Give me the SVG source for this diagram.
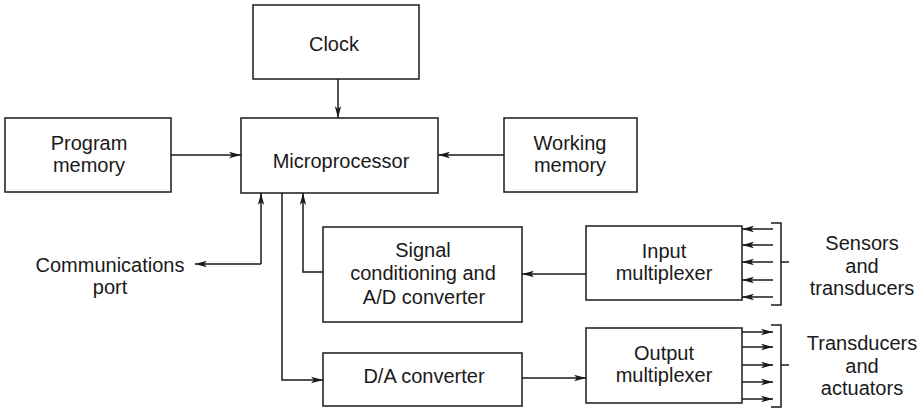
<svg xmlns="http://www.w3.org/2000/svg" width="922" height="411" viewBox="0 0 922 411">
<defs>
<marker id="ah" viewBox="0 0 12 8" refX="12" refY="4" markerWidth="12" markerHeight="8" markerUnits="userSpaceOnUse" orient="auto">
<path d="M0,0.8 L12,4 L0,7.2 L3,4 Z" fill="#1a1a1a"/>
</marker>
</defs>
<style>
.box{fill:#fff;stroke:#1a1a1a;stroke-width:1.5}
.ln{fill:none;stroke:#1a1a1a;stroke-width:1.5}
.ar{fill:none;stroke:#1a1a1a;stroke-width:1.5;marker-end:url(#ah)}
text{font-family:"Liberation Sans",Arial,sans-serif;font-size:20px;fill:#1a1a1a;text-anchor:middle}
</style>
<rect width="922" height="411" fill="#fff"/>
<g id="clock"><rect class="box" x="253" y="5" width="166" height="74"/><text x="334" y="51">Clock</text></g>
<g id="microprocessor"><rect class="box" x="241" y="118" width="197" height="75"/><text x="341" y="168">Microprocessor</text></g>
<g id="program-memory"><rect class="box" x="5" y="118" width="166" height="74"/><text x="89" y="150">Program</text><text x="89" y="172">memory</text></g>
<g id="working-memory"><rect class="box" x="504" y="118" width="133" height="74"/><text x="570" y="150">Working</text><text x="570" y="172">memory</text></g>
<g id="signal-conditioning"><rect class="box" x="323" y="227" width="199" height="95"/><text x="423" y="257">Signal</text><text x="423" y="280">conditioning and</text><text x="424" y="304">A/D converter</text></g>
<g id="da-converter"><rect class="box" x="323" y="353" width="199" height="53"/><text x="424" y="383">D/A converter</text></g>
<g id="input-multiplexer"><rect class="box" x="586" y="226" width="156" height="74"/><text x="664" y="258">Input</text><text x="664" y="280">multiplexer</text></g>
<g id="output-multiplexer"><rect class="box" x="586" y="328" width="156" height="75"/><text x="664" y="360">Output</text><text x="664" y="382">multiplexer</text></g>
<g id="communications-port"><text x="110" y="272">Communications</text><text x="110" y="294">port</text></g>
<g id="sensors"><text x="862" y="250">Sensors</text><text x="862" y="273">and</text><text x="862" y="295">transducers</text></g>
<g id="actuators"><text x="862" y="350">Transducers</text><text x="862" y="373">and</text><text x="862" y="395">actuators</text></g>
<g id="connectors">
<path class="ar" d="M338,79 V118"/>
<path class="ar" d="M171,155 H241"/>
<path class="ar" d="M504,155 H438"/>
<path class="ar" d="M261,264 V193"/>
<path class="ar" d="M261,264 H195"/>
<path class="ar" d="M323,272 H303 V193"/>
<path class="ar" d="M282,193 V380 H323"/>
<path class="ar" d="M586,274 H522"/>
<path class="ar" d="M522,378 H586"/>
<path class="ar" d="M773,229 H742"/>
<path class="ar" d="M773,245 H742"/>
<path class="ar" d="M773,262 H742"/>
<path class="ar" d="M773,280 H742"/>
<path class="ar" d="M773,297 H742"/>
<path class="ln" d="M771,223 H781 V305 H771 M781,262 H789"/>
<path class="ar" d="M742,332 H773"/>
<path class="ar" d="M742,347 H773"/>
<path class="ar" d="M742,365 H773"/>
<path class="ar" d="M742,382 H773"/>
<path class="ar" d="M742,399 H773"/>
<path class="ln" d="M771,325 H781 V407 H771 M781,365 H789"/>
</g>
</svg>
